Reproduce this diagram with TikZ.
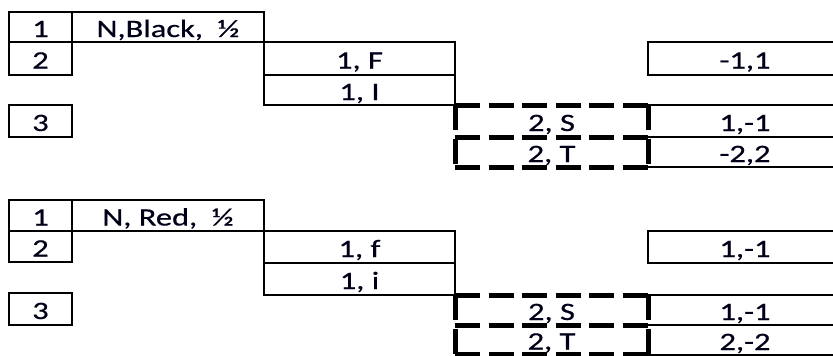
\documentclass[tikz,border=0pt]{standalone}
\usepackage{fontspec}
\setmainfont[FakeStretch=1.3,FakeBold=0.6]{Carlito}
\begin{document}
\begin{tikzpicture}[x=1pt,y=-1pt,
  cell/.style={rectangle,inner sep=0pt,outer sep=0pt,anchor=north west,
    text height=20pt,text depth=0pt,font=\fontsize{25}{29}\selectfont,text=black!90!blue},
  solidbox/.style={cell,draw=black,line width=2.6pt},
  dashline/.style={draw=black,line width=5pt,dash pattern=on 25pt off 8.6pt},
  openline/.style={line width=2.6pt}]
\useasboundingbox (0,0) rectangle (833,356);
% ---------- top half ----------
\node[solidbox,minimum width=63pt,minimum height=30pt] (a1) at (9,12) {1};
\node[solidbox,minimum width=192pt,minimum height=30pt] (b1) at (72,12) {N,Black,\ \ ½};
\node[solidbox,minimum width=63pt,minimum height=33pt] (a2) at (9,42) {2};
\node[solidbox,minimum width=63pt,minimum height=32pt] (a3) at (9,105) {3};
\node[solidbox,minimum width=191pt,minimum height=33pt] (c1) at (264,42) {1, F};
\node[solidbox,minimum width=191pt,minimum height=30pt] (c2) at (264,75) {1, I};
\node[cell,minimum width=194pt,minimum height=33pt] (e1) at (648,42) {-1,1};
\node[cell,minimum width=194pt,minimum height=32pt] (e2) at (648,105) {1,-1};
\node[cell,minimum width=194pt,minimum height=30pt] (e3) at (648,137) {-2,2};
\draw[openline] (e1.north east) -- (e1.north west) -- (e1.south west) -- (e1.south east);
\draw[openline] (e2.north west) -- (e2.north east);
\draw[openline] (e2.south west) -- (e2.south east);
\draw[openline] (e3.south west) -- (e3.south east);
\node[cell,minimum width=193pt,minimum height=32pt] (d1) at (455,105) {2, S};
\node[cell,minimum width=193pt,minimum height=30pt] (d2) at (455,137) {2, T};
\draw[dashline] (d1.north west) -- (d1.north east);
\draw[dashline] (d1.south west) -- (d1.south east);
\draw[dashline] (d2.south west) -- (d2.south east);
\draw[dashline] (d1.north west) -- (d2.south west);
\draw[dashline] (d1.north east) -- (d2.south east);
% ---------- bottom half ----------
\node[solidbox,minimum width=63pt,minimum height=31pt] (ra1) at (9,200) {1};
\node[solidbox,minimum width=192pt,minimum height=31pt] (rb1) at (72,200) {N, Red,\ \ ½};
\node[solidbox,minimum width=63pt,minimum height=31pt] (ra2) at (9,231) {2};
\node[solidbox,minimum width=63pt,minimum height=32pt] (ra3) at (9,293) {3};
\node[solidbox,minimum width=191pt,minimum height=32pt] (rc1) at (264,231) {1, f};
\node[solidbox,minimum width=191pt,minimum height=32pt] (rc2) at (264,263) {1, i};
\node[cell,minimum width=194pt,minimum height=32pt] (re1) at (648,231) {1,-1};
\node[cell,minimum width=194pt,minimum height=30pt] (re2) at (648,295) {1,-1};
\node[cell,minimum width=194pt,minimum height=30pt] (re3) at (648,325) {2,-2};
\draw[openline] (re1.north east) -- (re1.north west) -- (re1.south west) -- (re1.south east);
\draw[openline] (re2.north west) -- (re2.north east);
\draw[openline] (re2.south west) -- (re2.south east);
\draw[openline] (re3.south west) -- (re3.south east);
\node[cell,minimum width=193pt,minimum height=30pt] (rd1) at (455,295) {2, S};
\node[cell,minimum width=193pt,minimum height=29pt] (rd2) at (455,325) {2, T};
\draw[dashline] (rd1.north west) -- (rd1.north east);
\draw[dashline] (rd1.south west) -- (rd1.south east);
\draw[dashline] (rd2.south west) -- (rd2.south east);
\draw[dashline] (rd1.north west) -- (rd2.south west);
\draw[dashline] (rd1.north east) -- (rd2.south east);
\end{tikzpicture}
\end{document}
